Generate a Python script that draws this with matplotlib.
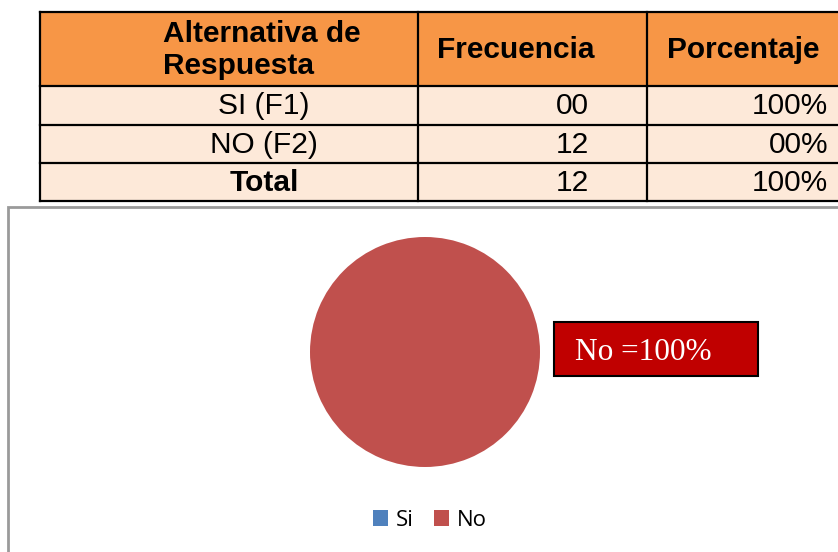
import matplotlib
matplotlib.use("Agg")
import matplotlib.pyplot as plt
from matplotlib.patches import Rectangle

# table data
col_headers = ["Alternativa de\nRespuesta", "Frecuencia", "Porcentaje"]
row_labels = ["SI (F1)", "NO (F2)", "Total"]
frecuencia = ["00", "12", "12"]
porcentaje = ["100%", "00%", "100%"]

# pie data
pie_labels = ["Si", "No"]
pie_values = [0, 12]
pie_colors = ["#4F81BD", "#C0504D"]

W, H = 838, 552
fig = plt.figure(figsize=(W / 100, H / 100), dpi=100)

# overlay axes in pixel coordinates (y down)
ov = fig.add_axes([0, 0, 1, 1])
ov.set_xlim(0, W)
ov.set_ylim(H, 0)
ov.axis("off")

# chart frame
ov.add_patch(Rectangle((8, 207), 860, 360, facecolor="white",
                       edgecolor="#9A9A9A", lw=2))

# table layout
col_x = [40, 418, 647, 870]
row_y = [12, 86, 125, 163, 201]
header_color = "#F79646"
body_color = "#FDE9D9"

ov.add_patch(Rectangle((col_x[0], row_y[0]), col_x[-1] - col_x[0],
                       row_y[1] - row_y[0], facecolor=header_color, lw=0))
ov.add_patch(Rectangle((col_x[0], row_y[1]), col_x[-1] - col_x[0],
                       row_y[-1] - row_y[1], facecolor=body_color, lw=0))
for x in col_x:
    ov.plot([x, x], [row_y[0], row_y[-1]], color="black", lw=1.6,
            solid_capstyle="projecting")
for y in row_y:
    ov.plot([col_x[0], col_x[-1]], [y, y], color="black", lw=1.6,
            solid_capstyle="projecting")

font = "Liberation Sans"
fs = 21.5
ov.text(163, 50, col_headers[0], ha="left", va="center", fontsize=fs,
        fontweight="bold", family=font, linespacing=1.2)
ov.text(516, 50, col_headers[1], ha="center", va="center", fontsize=fs,
        fontweight="bold", family=font)
ov.text(743, 50, col_headers[2], ha="center", va="center", fontsize=fs,
        fontweight="bold", family=font)

for i, (lab, f, p) in enumerate(zip(row_labels, frecuencia, porcentaje)):
    yc = (row_y[i + 1] + row_y[i + 2]) / 2 + 1
    bold = "bold" if lab == "Total" else "normal"
    ov.text(264, yc, lab, ha="center", va="center", fontsize=fs,
            fontweight=bold, family=font)
    ov.text(589, yc, f, ha="right", va="center", fontsize=fs, family=font)
    ov.text(828, yc, p, ha="right", va="center", fontsize=fs, family=font)

# pie
cx, cy, r = 425, 352, 115
pax = fig.add_axes([(cx - r) / W, 1 - (cy + r) / H, 2 * r / W, 2 * r / H])
wedges, _ = pax.pie(pie_values, colors=pie_colors, startangle=90,
                    counterclock=False, radius=1)
pax.set_xlim(-1, 1)
pax.set_ylim(-1, 1)
pax.set_aspect("equal")

# data label box
pct = round(100 * pie_values[1] / sum(pie_values))
ov.add_patch(Rectangle((554, 322), 204, 54, facecolor="#C00000",
                       edgecolor="black", lw=1.5, zorder=3))
ov.text(575, 353, f"{pie_labels[1]} ={pct}%", ha="left", va="center",
        fontsize=22.5, color="white", family="Liberation Serif", zorder=4)

# legend
fig.legend(wedges, pie_labels, loc="center", ncol=2, frameon=False,
           bbox_to_anchor=(430 / W, 1 - 520 / H),
           prop={"family": "Open Sans", "size": 16},
           handlelength=0.7, handleheight=0.7, handletextpad=0.35,
           columnspacing=0.9)

fig.savefig("out.png", dpi=100)
